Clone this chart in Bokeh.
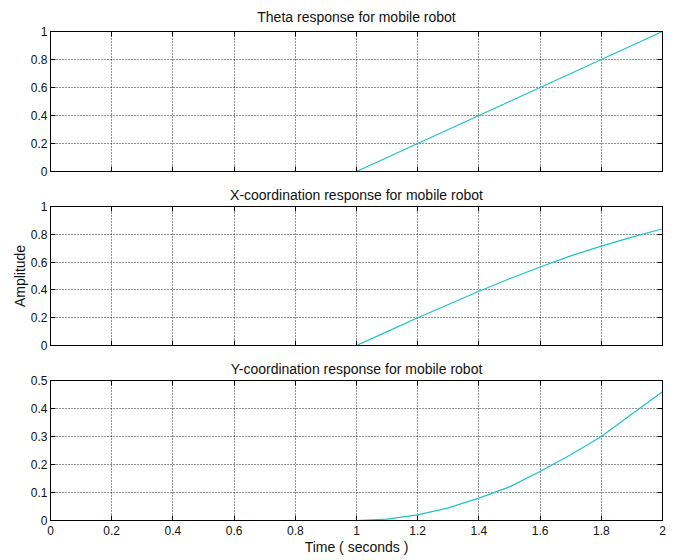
from bokeh.plotting import figure
from bokeh.layouts import column
from bokeh.models import Range1d, LinearAxis, FixedTicker, CustomJSTickFormatter
from bokeh.embed import file_html
from bokeh.resources import INLINE

# ---- data ----
time = [0.0, 0.1, 0.2, 0.3, 0.4, 0.5, 0.6, 0.7, 0.8, 0.9, 1.0,
        1.1, 1.2, 1.3, 1.4, 1.5, 1.6, 1.7, 1.8, 1.9, 2.0]
theta = [0, 0, 0, 0, 0, 0, 0, 0, 0, 0, 0,
         0.10, 0.20, 0.30, 0.40, 0.50, 0.60, 0.70, 0.80, 0.90, 1.00]
x_coord = [0, 0, 0, 0, 0, 0, 0, 0, 0, 0, 0,
           0.10, 0.20, 0.295, 0.39, 0.48, 0.565, 0.645, 0.715, 0.78, 0.84]
y_coord = [0, 0, 0, 0, 0, 0, 0, 0, 0, 0, 0,
           0.005, 0.02, 0.045, 0.08, 0.12, 0.175, 0.235, 0.30, 0.38, 0.46]

x_ticks = [0, 0.2, 0.4, 0.6, 0.8, 1.0, 1.2, 1.4, 1.6, 1.8, 2.0]
y_ticks_1 = [0, 0.2, 0.4, 0.6, 0.8, 1.0]
y_ticks_3 = [0, 0.1, 0.2, 0.3, 0.4, 0.5]

titles = ["Theta response for mobile robot",
          "X-coordination response for mobile robot",
          "Y-coordination response for mobile robot"]
x_label = "Time ( seconds )"
y_label = "Amplitude"

FONT = "Liberation Sans"
LINE_COLOR = "#1cc4c4"

fmt = CustomJSTickFormatter(code="return String(+tick.toFixed(2));")
blank = CustomJSTickFormatter(code="return '';")


def hide_labels(ax):
    ax.formatter = blank
    ax.major_label_text_color = None
    ax.major_label_standoff = 0


def make(title, ys, yr, yticks, frame_h, top, bottom, title_standoff,
         show_x_labels, xlab=None, ylab=None):
    p = figure(frame_width=612, frame_height=frame_h,
               min_border_left=50, min_border_right=15,
               min_border_top=top, min_border_bottom=bottom,
               x_range=Range1d(0, 2), y_range=Range1d(*yr),
               output_backend="svg", toolbar_location=None,
               background_fill_color="white", border_fill_color="white")
    p.title.text = title
    p.title.align = "center"
    p.title.text_font = FONT
    p.title.text_font_size = "14px"
    p.title.text_font_style = "normal"
    p.title.text_color = "#111111"
    p.title.standoff = title_standoff
    p.outline_line_color = "black"
    p.outline_line_width = 1
    p.outline_line_alpha = 1

    p.xaxis.ticker = FixedTicker(ticks=x_ticks)
    p.yaxis.ticker = FixedTicker(ticks=yticks)
    for ax in (p.xaxis[0], p.yaxis[0]):
        ax.formatter = fmt
        ax.major_tick_in = 5
        ax.major_tick_out = 0
        ax.minor_tick_line_color = None
        ax.axis_line_color = "black"
        ax.major_tick_line_color = "black"
        ax.major_label_text_font = FONT
        ax.major_label_text_font_size = "12px"
        ax.major_label_text_color = "#111111"
        ax.major_label_standoff = 3
        ax.axis_label_text_font = FONT
        ax.axis_label_text_font_size = "14px"
        ax.axis_label_text_font_style = "normal"
        ax.axis_label_text_color = "#111111"
    if not show_x_labels:
        hide_labels(p.xaxis[0])
    else:
        p.xaxis.major_label_standoff = 5
    if xlab:
        p.xaxis.axis_label = xlab
        p.xaxis.axis_label_standoff = 1
    if ylab:
        p.yaxis.axis_label = ylab
        p.yaxis.axis_label_standoff = 0

    # mirrored ticks on top and right
    top_ax = LinearAxis(ticker=FixedTicker(ticks=x_ticks))
    right_ax = LinearAxis(ticker=FixedTicker(ticks=yticks))
    for ax in (top_ax, right_ax):
        ax.major_tick_in = 5
        ax.major_tick_out = 0
        ax.minor_tick_line_color = None
        hide_labels(ax)
        ax.axis_line_color = "black"
        ax.major_tick_line_color = "black"
    p.add_layout(top_ax, "above")
    p.add_layout(right_ax, "right")

    p.xgrid[0].ticker = FixedTicker(ticks=x_ticks)
    p.ygrid[0].ticker = FixedTicker(ticks=yticks)
    for g in (p.xgrid[0], p.ygrid[0]):
        g.grid_line_color = "black"
        g.grid_line_dash = "1 2"
        g.grid_line_width = 1
        g.grid_line_alpha = 0.85

    p.line(time, ys, line_color=LINE_COLOR, line_width=1.2)
    return p


p1 = make(titles[0], theta, (0, 1), y_ticks_1, 140, 31, 8, 13, False)
p2 = make(titles[1], x_coord, (0, 1), y_ticks_1, 139, 27, 8, 8, False, ylab=y_label)
p3 = make(titles[2], y_coord, (0, 0.5), y_ticks_3, 140, 27, 40, 8, True, xlab=x_label)

layout = column(p1, p2, p3, spacing=0)
open("out.html", "w").write(file_html(layout, INLINE))
